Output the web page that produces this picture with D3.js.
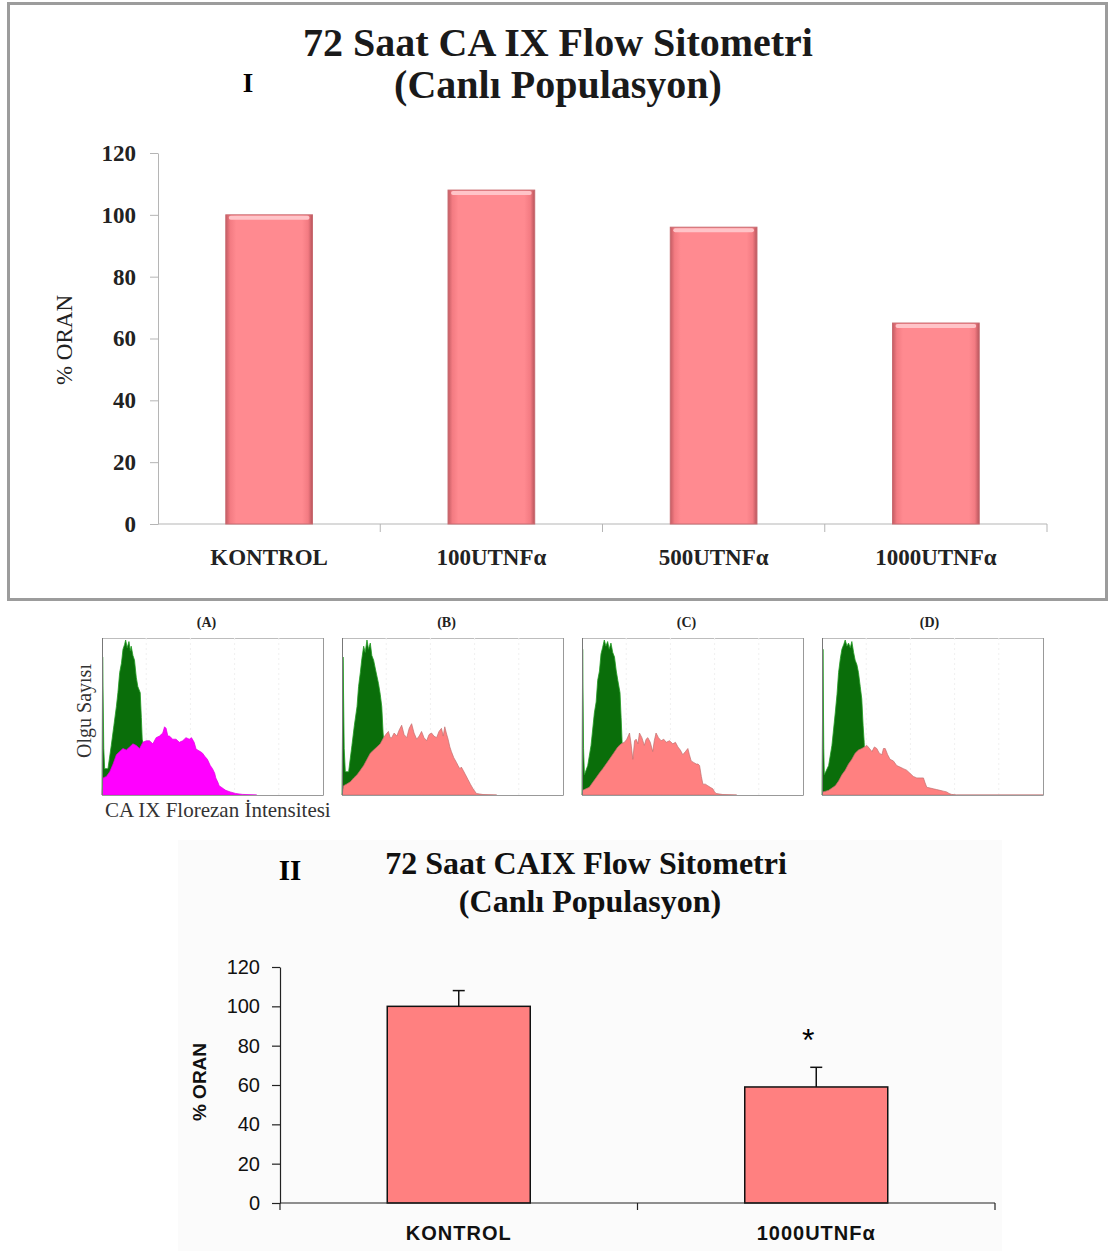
<!DOCTYPE html>
<html>
<head>
<meta charset="utf-8">
<script src="https://cdn.jsdelivr.net/npm/d3@7"></script>
<style>
  body { margin: 0; background: #fff; }
  svg { display: block; }
</style>
</head>
<body>
<svg id="fig"></svg>
<script>
/* data */
const topTitle = ["72 Saat CA IX Flow Sitometri", "(Canlı Populasyon)"];
const topCats = ["KONTROL", "100UTNFα", "500UTNFα", "1000UTNFα"];
const topValues = [100, 108, 96, 65];
const yTicks = [0, 20, 40, 60, 80, 100, 120];

const panelLabels = ["(A)", "(B)", "(C)", "(D)"];
// [channel %, count %]
const greenA = [[0,0],[0.3,89],[0.8,30],[1.2,17],[2.7,17],[4.2,32],[5.4,45],[6.5,57],[7.2,66],[8.0,79],[8.8,85],[9.5,94],[10.2,97],[10.7,100],[11.4,95],[12.2,99],[12.8,93],[13.2,96],[14.0,90],[14.7,87],[15.5,76],[16.2,70],[17.3,66],[17.8,50],[18.2,36],[18.8,32],[19.5,0]];
const magentaA = [[0,0],[0.5,11],[2,12],[3.5,15],[5,20],[6.5,26],[8,28],[9.5,30],[11,29],[12.5,31],[14,33],[15.5,32],[17,30],[18.5,34],[20,35],[21.5,35],[23,33],[24.5,37],[26,38],[27.5,40],[28.3,44],[29,43],[29.8,38],[30.5,38],[32,36],[33.5,36],[35,34],[36.5,35],[38,37],[39.5,36],[40.5,37],[41.7,34],[42.5,30],[43.2,29],[44.5,28],[45.5,27],[46.5,25],[47.7,23],[49,19],[50,17],[51,14],[51.5,11],[52.5,8],[53,6],[55,4],[56,3],[58,2],[60.5,1],[63.5,0.4],[70,0]];
const greenB = [[0,0],[0.5,89],[1,30],[1.5,15],[3,15],[4.5,32],[5.6,45],[6.8,57],[7.5,70],[8.3,79],[9.0,88],[9.8,96],[10.5,92],[11.3,100],[12.0,94],[12.8,98],[13.5,90],[14.3,87],[15.3,80],[16.5,72],[17.3,65],[18,57],[18.6,40],[19.1,32],[19.8,0]];
const pinkB = [[0,0],[0.75,6],[2,7],[3.8,8.5],[5.3,11],[6.8,13],[8.3,16],[9.8,19],[11.3,23],[12.8,27],[14.3,29],[15.8,31],[17.3,33],[18.8,37],[19.8,39],[21,41],[21.8,37],[22.5,37],[23.6,40],[24.8,38],[25.9,42],[27,45],[28.1,39],[29.3,37],[30.4,43],[31.5,46],[32.6,40],[33.8,36],[34.9,38],[36,41],[37.1,37],[38.3,35],[39.4,39],[40.5,40],[41.6,38],[42.8,37],[43.9,41],[45,43],[45.8,38],[46.5,44],[47.2,40],[48,36],[48.8,31],[49.5,28],[50.6,24],[51.8,21],[52.5,19],[53.3,17],[54,18],[54.8,16],[55.9,13],[57,10],[58.1,7],[59.3,4],[60.8,1],[63.8,0.3],[70,0]];
const greenC = [[0,0],[0.3,94],[0.7,30],[1.1,13],[2.6,19],[4.1,32],[5.6,53],[6.4,60],[7.1,74],[7.9,80],[8.6,91],[9.3,95],[10.1,100],[10.8,96],[11.6,99],[12.3,94],[13.1,98],[13.9,92],[14.7,89],[15.5,80],[16.2,74],[17.2,66],[17.7,50],[18.1,36],[18.8,0]];
const pinkC = [[0,0],[0.3,3],[1.8,4],[3.3,5],[4.8,8],[6.3,11],[7.8,14],[9.4,17],[10.9,20],[12.4,23],[14.3,27],[16.2,31],[17.7,33],[19.2,34],[20.3,36],[21.5,40],[22.2,33],[23,23],[23.8,35],[24.5,36],[25.3,33],[26,40],[27.1,37],[28.2,32],[29,36],[29.8,37],[30.9,34],[32,28],[32.7,35],[33.5,40],[34.6,37],[35.8,35],[37,36],[38.1,34],[39.6,35],[41.1,33],[42.3,34],[43.4,31],[44.5,29],[45.6,26],[46.8,28],[47.9,30],[48.6,26],[49.4,22],[50.5,21],[51.7,20],[52.5,20],[53.2,19],[54,12],[54.7,7],[55.8,7],[56.9,6],[58,5],[59.2,4],[60,2],[60.7,1],[63.7,0.3],[70,0]];
const greenD = [[0,0],[0.45,94],[0.8,30],[1.05,13],[3,19],[4.5,32],[6,53],[6.8,65],[7.5,79],[8.3,88],[9,94],[9.8,97],[10.5,100],[11.3,96],[12,98],[12.8,95],[13.5,99],[14.3,92],[15,87],[15.8,84],[16.5,79],[17.3,70],[18,62],[18.6,45],[19.1,34],[19.8,0]];
const pinkD = [[0,0],[0.45,2],[1.7,2.5],[3,3],[4.5,4.5],[6,6],[7.5,9],[9,13],[10.5,16],[12,20],[13.5,23],[15,27],[16.5,29],[18,30],[19.2,31],[20.3,32],[21.5,30],[22.6,28],[23.7,31],[24.8,30],[25.9,27],[27.1,26],[27.8,30],[28.6,30],[29.7,26],[30.8,23],[32.3,22],[33.8,19],[35.3,18],[36.8,17],[38.3,16],[39.8,14],[41.3,12],[42.9,11],[44.4,11],[45.9,11],[46.6,8],[47.4,5],[48.9,4.5],[50.4,4],[51.9,3.5],[53.4,3],[54.9,2.5],[56.4,2],[57.5,1],[58.6,0.4],[60.9,0],[100,0]];
const hists = [
  { label: panelLabels[0], green: greenA, other: magentaA, color: "#ff00ff" },
  { label: panelLabels[1], green: greenB, other: pinkB, color: "#ff8080" },
  { label: panelLabels[2], green: greenC, other: pinkC, color: "#ff8080" },
  { label: panelLabels[3], green: greenD, other: pinkD, color: "#ff8080" }
];

const botTitle = ["72 Saat CAIX Flow Sitometri", "(Canlı Populasyon)"];
const botCats = ["KONTROL", "1000UTNFα"];
const botValues = [100, 59];
const botErrors = [8, 10];
const botMarks = ["", "*"];

const W = 1109, H = 1251;
const SERIF = "'Liberation Serif', 'Times New Roman', serif";
const SANS = "'Liberation Sans', Arial, sans-serif";

const svg = d3.select("#fig").attr("width", W).attr("height", H);

/* Chart I */
function drawTop() {
  let g = svg.append("g");

  g.append("rect")
    .attr("x", 8.5).attr("y", 3.5)
    .attr("width", 1098).attr("height", 596)
    .attr("fill", "#fff")
    .attr("stroke", "#9c9c9c")
    .attr("stroke-width", 3);

  let defs = svg.append("defs");
  let grad = defs.append("linearGradient").attr("id", "barGrad")
    .attr("x1", "0%").attr("x2", "100%").attr("y1", "0%").attr("y2", "0%");
  [["0%", "#c45c63"], ["5%", "#f37b82"], ["12%", "#ff8a90"],
   ["88%", "#ff8a90"], ["95%", "#f37b82"], ["100%", "#b8555c"]]
    .forEach(s => grad.append("stop").attr("offset", s[0]).attr("stop-color", s[1]));

  let x = d3.scaleBand().domain(topCats).range([158, 1047])
    .paddingInner(0.61).paddingOuter(0.305);
  let y = d3.scaleLinear().domain([0, 120]).range([524, 153]);

  // title
  g.selectAll(".ttl").data(topTitle).enter().append("text")
    .attr("x", 558).attr("y", (d, i) => 56 + i * 42)
    .attr("text-anchor", "middle")
    .style("font-family", SERIF).style("font-weight", "bold")
    .style("font-size", "40px").attr("fill", "#1a1a1a")
    .text(d => d);
  g.append("text").attr("x", 248).attr("y", 92)
    .attr("text-anchor", "middle")
    .style("font-family", SERIF).style("font-weight", "bold")
    .style("font-size", "27px").text("I");

  // y axis
  let ya = g.append("g").attr("transform", "translate(158,0)")
    .call(d3.axisLeft(y).tickValues(yTicks).tickSize(8).tickSizeOuter(0).tickPadding(14));
  ya.selectAll("path, line").attr("stroke", "#b5b5b5");
  ya.selectAll("text")
    .style("font-family", SERIF).style("font-weight", "bold")
    .style("font-size", "23px").attr("fill", "#222");

  g.append("text")
    .attr("transform", "translate(72,340) rotate(-90)")
    .attr("text-anchor", "middle")
    .style("font-family", SERIF).style("font-size", "23px")
    .attr("fill", "#222")
    .text("% ORAN");

  // x axis
  g.append("line").attr("x1", 158).attr("x2", 1047)
    .attr("y1", y(0)).attr("y2", y(0)).attr("stroke", "#b5b5b5");
  g.selectAll(".xt").data(topCats).enter().append("line")
    .attr("x1", d => x(d) - x.step() * 0.305 + x.step())
    .attr("x2", d => x(d) - x.step() * 0.305 + x.step())
    .attr("y1", y(0)).attr("y2", y(0) + 8)
    .attr("stroke", "#b5b5b5");
  g.selectAll(".xl").data(topCats).enter().append("text")
    .attr("x", d => x(d) + x.bandwidth() / 2)
    .attr("y", 565)
    .attr("text-anchor", "middle")
    .style("font-family", SERIF).style("font-weight", "bold")
    .style("font-size", "23px").attr("fill", "#222")
    .text(d => d);

  // bars
  g.selectAll(".bar").data(topValues).enter().append("rect")
    .attr("x", (d, i) => x(topCats[i]))
    .attr("y", d => y(d))
    .attr("width", x.bandwidth())
    .attr("height", d => y(0) - y(d))
    .attr("fill", "url(#barGrad)")
    .attr("stroke", "#c86a70").attr("stroke-width", 1);
  g.selectAll(".cap").data(topValues).enter().append("rect")
    .attr("x", (d, i) => x(topCats[i]) + 3)
    .attr("y", d => y(d) + 1)
    .attr("width", x.bandwidth() - 6)
    .attr("height", 4)
    .attr("rx", 2)
    .attr("fill", "#ffc4c8");
}

/* Histograms */
function drawHists() {
  let lefts = [102, 342, 582, 822];
  let pw = 221, ph = 157, top = 638;

  let g = svg.append("g");
  hists.forEach((h, i) => {
    let px = d3.scaleLinear().domain([0, 100]).range([lefts[i], lefts[i] + pw]);
    let py = d3.scaleLinear().domain([0, 100]).range([top + ph, top + 2]);
    let area = d3.area().x(d => px(d[0])).y0(py(0)).y1(d => py(d[1]));

    g.append("rect")
      .attr("x", lefts[i] + 0.5).attr("y", top + 0.5)
      .attr("width", pw).attr("height", ph)
      .attr("fill", "#fff").attr("stroke", "#bdbdbd");
    [20, 40, 60, 80].forEach(v => {
      g.append("line")
        .attr("x1", px(v)).attr("x2", px(v))
        .attr("y1", top).attr("y2", top + ph)
        .attr("stroke", "#f0f0f0").attr("stroke-dasharray", "2,3");
    });

    g.append("path").datum(h.green)
      .attr("d", area)
      .attr("fill", "#0a6e0a")
      .attr("stroke", "#1f9a1f").attr("stroke-width", 0.8);
    g.append("path").datum(h.other)
      .attr("d", area)
      .attr("fill", h.color)
      .attr("stroke", i == 0 ? "#e000e0" : "#c07070").attr("stroke-width", 0.7);

    g.append("line")
      .attr("x1", lefts[i] + 0.5).attr("x2", lefts[i] + 0.5)
      .attr("y1", top).attr("y2", top + ph)
      .attr("stroke", "#777");
    g.append("line")
      .attr("x1", lefts[i] + pw + 0.5).attr("x2", lefts[i] + pw + 0.5)
      .attr("y1", top).attr("y2", top + ph)
      .attr("stroke", "#999");
    g.append("line")
      .attr("x1", lefts[i]).attr("x2", lefts[i] + pw)
      .attr("y1", top + ph + 0.5).attr("y2", top + ph + 0.5)
      .attr("stroke", "#999");

    g.append("text")
      .attr("x", lefts[i] + pw / 2 - 6 + (i == 3 ? 3 : 0)).attr("y", 627)
      .attr("text-anchor", "middle")
      .style("font-family", SERIF).style("font-weight", "bold")
      .style("font-size", "14px").attr("fill", "#222")
      .text(h.label);
  });

  g.append("text")
    .attr("transform", "translate(91,711) rotate(-90)")
    .attr("text-anchor", "middle")
    .style("font-family", SERIF).style("font-size", "20px")
    .attr("fill", "#333")
    .text("Olgu Sayısı");
  g.append("text")
    .attr("x", 105).attr("y", 817)
    .style("font-family", SERIF).style("font-size", "21px")
    .attr("fill", "#333")
    .text("CA IX Florezan İntensitesi");
}

/* Chart II */
function drawBottom() {
  let g = svg.append("g");

  g.append("rect")
    .attr("x", 178).attr("y", 840).attr("width", 824).attr("height", 411)
    .attr("fill", "#fbfbfb");

  let x = d3.scaleBand().domain(botCats).range([280, 995])
    .paddingInner(0.6).paddingOuter(0.3);
  let y = d3.scaleLinear().domain([0, 120]).range([1203, 967]);

  g.selectAll(".ttl").data(botTitle).enter().append("text")
    .attr("x", (d, i) => i == 0 ? 586 : 590).attr("y", (d, i) => 874 + i * 38)
    .attr("text-anchor", "middle")
    .style("font-family", SERIF).style("font-weight", "bold")
    .style("font-size", "32px").attr("fill", "#111")
    .text(d => d);
  g.append("text").attr("x", 290).attr("y", 880)
    .attr("text-anchor", "middle")
    .style("font-family", SERIF).style("font-weight", "bold")
    .style("font-size", "29px").text("II");

  let ya = g.append("g").attr("transform", "translate(280,0)")
    .call(d3.axisLeft(y).tickValues(yTicks).tickSize(8).tickSizeOuter(0).tickPadding(12));
  ya.selectAll("path, line").attr("stroke", "#222").attr("stroke-width", 1.2);
  ya.selectAll("text")
    .style("font-family", SANS)
    .style("font-size", "20px").attr("fill", "#111");

  g.append("text")
    .attr("transform", "translate(206,1082) rotate(-90)")
    .attr("text-anchor", "middle")
    .style("font-family", SANS).style("font-weight", "bold")
    .style("font-size", "19px").attr("fill", "#111")
    .text("% ORAN");

  // bars
  g.selectAll(".bar").data(botValues).enter().append("rect")
    .attr("x", (d, i) => x(botCats[i]))
    .attr("y", d => y(d))
    .attr("width", x.bandwidth())
    .attr("height", d => y(0) - y(d))
    .attr("fill", "#ff8080")
    .attr("stroke", "#111").attr("stroke-width", 1.5);

  // error bars
  let cx = i => x(botCats[i]) + x.bandwidth() / 2;
  g.selectAll(".err").data(botValues).enter().append("line")
    .attr("x1", (d, i) => cx(i)).attr("x2", (d, i) => cx(i))
    .attr("y1", d => y(d)).attr("y2", (d, i) => y(d + botErrors[i]))
    .attr("stroke", "#111").attr("stroke-width", 1.5);
  g.selectAll(".errcap").data(botValues).enter().append("line")
    .attr("x1", (d, i) => cx(i) - 6).attr("x2", (d, i) => cx(i) + 6)
    .attr("y1", (d, i) => y(d + botErrors[i])).attr("y2", (d, i) => y(d + botErrors[i]))
    .attr("stroke", "#111").attr("stroke-width", 1.5);
  g.selectAll(".mark").data(botMarks).enter().append("text")
    .attr("x", (d, i) => cx(i) - 8)
    .attr("y", (d, i) => y(botValues[i] + botErrors[i]) - 16)
    .attr("text-anchor", "middle")
    .style("font-family", SANS).style("font-size", "32px")
    .text(d => d);

  // x axis
  g.append("line").attr("x1", 280).attr("x2", 995)
    .attr("y1", y(0)).attr("y2", y(0))
    .attr("stroke", "#222").attr("stroke-width", 1.2);
  [0, 1, 2].forEach(k => {
    let xv = 280 + k * x.step();
    g.append("line").attr("x1", xv).attr("x2", xv)
      .attr("y1", y(0)).attr("y2", y(0) + 7)
      .attr("stroke", "#222").attr("stroke-width", 1.2);
  });
  g.selectAll(".xl").data(botCats).enter().append("text")
    .attr("x", (d, i) => cx(i))
    .attr("y", 1240)
    .attr("text-anchor", "middle")
    .style("font-family", SANS).style("font-weight", "bold")
    .style("font-size", "20px").style("letter-spacing", "1px")
    .attr("fill", "#111")
    .text(d => d);
}

drawTop();
drawHists();
drawBottom();
</script>
</body>
</html>
